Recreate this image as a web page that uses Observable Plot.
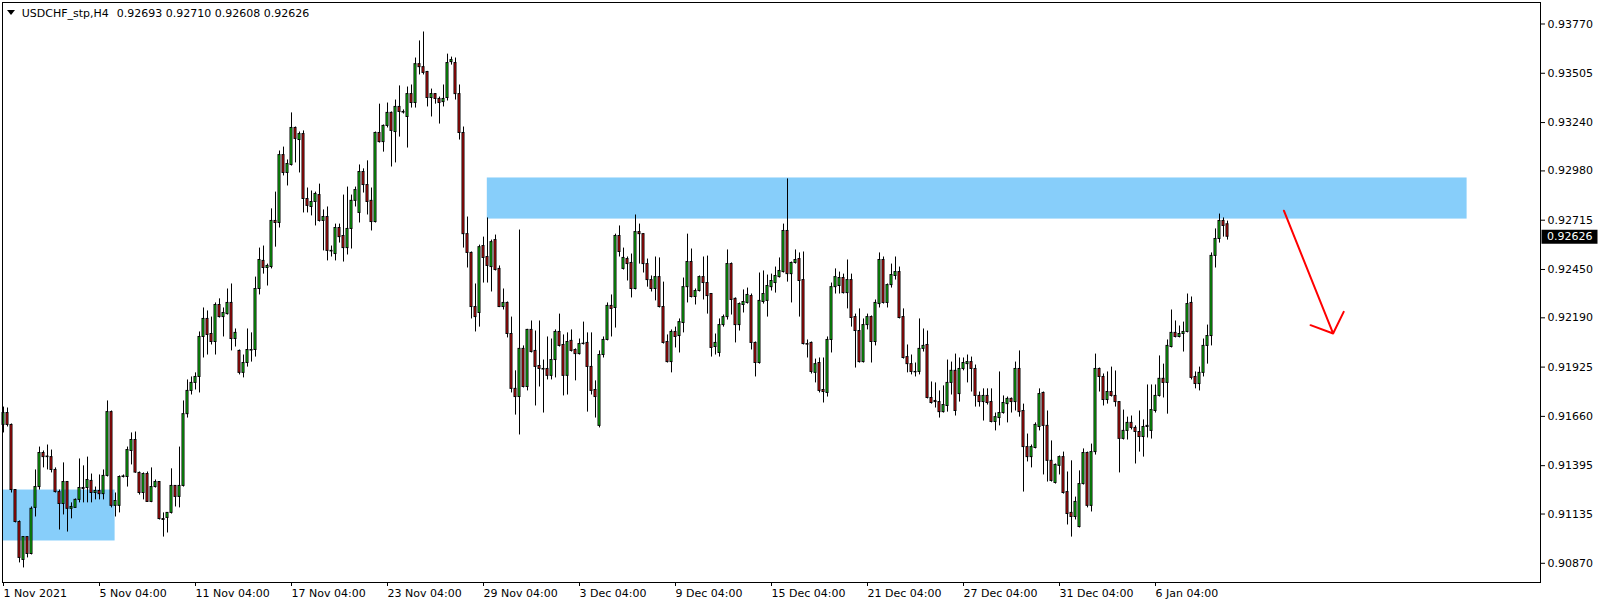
<!DOCTYPE html>
<html>
<head>
<meta charset="utf-8">
<script src="https://cdn.jsdelivr.net/npm/d3@7"></script>
<script src="https://cdn.jsdelivr.net/npm/@observablehq/plot@0.6"></script>
<style>
  html, body { margin: 0; padding: 0; background: #fff; }
</style>
</head>
<body>
<div id="chart"></div>
<script>
// ---- data (USDCHF_stp, H4) ----
const symbolLabel = "USDCHF_stp,H4";

const opens = [
0.91614,0.91678,0.91614,0.91264,0.91092,0.90888,0.91011,0.90920,0.91168,0.91280,
0.91463,0.91441,0.91441,0.91372,0.91253,0.91189,0.91307,0.91163,0.91168,0.91211,
0.91275,0.91275,0.91313,0.91248,0.91259,0.91242,0.91340,0.91683,0.91179,0.91179,
0.91334,0.91334,0.91474,0.91533,0.91356,0.91248,0.91350,0.91200,0.91280,0.91307,
0.91108,0.91114,0.91141,0.91286,0.91227,0.91286,0.91672,0.91797,0.91840,0.91872,
0.92087,0.92184,0.92103,0.92060,0.92259,0.92194,0.92210,0.92270,0.92076,0.92012,
0.91894,0.91947,0.92017,0.92017,0.92345,0.92496,0.92458,0.92463,0.92711,0.92700,
0.93065,0.92969,0.93012,0.93211,0.93146,0.93178,0.92829,0.92786,0.92813,0.92850,
0.92711,0.92732,0.92550,0.92533,0.92673,0.92630,0.92565,0.92668,0.92819,0.92754,
0.92974,0.92904,0.92819,0.92705,0.93184,0.93135,0.93222,0.93292,0.93189,0.93324,
0.93297,0.93270,0.93393,0.93345,0.93554,0.93538,0.93512,0.93372,0.93393,0.93367,
0.93350,0.93372,0.93565,0.93560,0.93393,0.93184,0.92640,0.92539,0.92248,0.92216,
0.92576,0.92517,0.92463,0.92608,0.92453,0.92248,0.92270,0.92103,0.91808,0.91764,
0.92023,0.91818,0.92125,0.92012,0.91931,0.91915,0.91915,0.91878,0.91963,0.92114,
0.92044,0.91878,0.92066,0.92017,0.91995,0.92049,0.92055,0.91926,0.91802,0.91609,
0.91990,0.92071,0.92254,0.92243,0.92630,0.92453,0.92506,0.92485,0.92345,0.92651,
0.92640,0.92479,0.92393,0.92345,0.92409,0.92248,0.92060,0.91952,0.92114,0.92092,
0.92162,0.92355,0.92490,0.92302,0.92334,0.92409,0.92377,0.92318,0.92033,0.92001,
0.92151,0.92194,0.92479,0.92292,0.92151,0.92259,0.92270,0.92307,0.92055,0.91947,
0.92275,0.92281,0.92355,0.92377,0.92409,0.92436,0.92657,0.92425,0.92485,0.92506,
0.92393,0.92049,0.92055,0.91894,0.91947,0.91802,0.91786,0.92071,0.92355,0.92361,
0.92404,0.92323,0.92393,0.92194,0.92119,0.91952,0.92151,0.92194,0.92060,0.92264,
0.92501,0.92270,0.92366,0.92415,0.92436,0.92194,0.91979,0.91941,0.91899,0.91899,
0.92023,0.92044,0.91759,0.91743,0.91737,0.91683,0.91716,0.91840,0.91905,0.91780,
0.91915,0.91941,0.91952,0.91915,0.91770,0.91737,0.91770,0.91737,0.91630,0.91651,
0.91678,0.91726,0.91754,0.91737,0.91915,0.91689,0.91495,0.91441,0.91490,0.91603,
0.91786,0.91609,0.91421,0.91302,0.91394,0.91441,0.91253,0.91141,0.91119,0.91065,
0.91296,0.91463,0.91179,0.91468,0.91915,0.91872,0.91748,0.91791,0.91770,0.91737,
0.91539,0.91582,0.91625,0.91598,0.91576,0.91549,0.91603,0.91582,0.91689,0.91770,
0.91862,0.91840,0.92033,0.92109,0.92087,0.92103,0.92114,0.92270,0.91872,0.91834,
0.91894,0.92039,0.92092,0.92523,0.92614,0.92711,0.92693
];
const highs = [
0.91710,0.91705,0.91619,0.91266,0.91098,0.91011,0.91011,0.91173,0.91372,0.91495,
0.91474,0.91506,0.91479,0.91383,0.91264,0.91410,0.91310,0.91195,0.91216,0.91431,
0.91394,0.91441,0.91350,0.91280,0.91345,0.91372,0.91743,0.91689,0.91248,0.91340,
0.91345,0.91495,0.91571,0.91576,0.91361,0.91356,0.91361,0.91383,0.91318,0.91309,
0.91141,0.91143,0.91378,0.91288,0.91495,0.91743,0.91856,0.91872,0.91894,0.92114,
0.92243,0.92227,0.92194,0.92270,0.92292,0.92243,0.92345,0.92372,0.92130,0.92017,
0.91990,0.92130,0.92109,0.92409,0.92565,0.92576,0.92479,0.92776,0.92866,0.93087,
0.93108,0.93039,0.93292,0.93216,0.93189,0.93195,0.92888,0.92872,0.92866,0.92909,
0.92770,0.92786,0.92576,0.92694,0.92694,0.92850,0.92893,0.92850,0.92893,0.93012,
0.92991,0.93034,0.92888,0.93189,0.93339,0.93227,0.93345,0.93297,0.93361,0.93437,
0.93308,0.93431,0.93442,0.93587,0.93679,0.93727,0.93515,0.93420,0.93396,0.93377,
0.93442,0.93608,0.93592,0.93587,0.93442,0.93216,0.92732,0.92544,0.92372,0.92581,
0.92624,0.92727,0.92608,0.92635,0.92469,0.92345,0.92275,0.92194,0.91905,0.92662,
0.92039,0.92128,0.92173,0.92119,0.92173,0.91963,0.92087,0.92076,0.92125,0.92210,
0.92098,0.92109,0.92125,0.92023,0.92076,0.92167,0.92109,0.92109,0.91851,0.92012,
0.92087,0.92270,0.92313,0.92640,0.92684,0.92565,0.92517,0.92533,0.92743,0.92694,
0.92643,0.92506,0.92415,0.92517,0.92512,0.92382,0.92098,0.92125,0.92140,0.92184,
0.92404,0.92640,0.92560,0.92345,0.92415,0.92517,0.92522,0.92320,0.92103,0.92184,
0.92205,0.92555,0.92485,0.92297,0.92270,0.92340,0.92350,0.92318,0.92060,0.92431,
0.92442,0.92420,0.92425,0.92463,0.92512,0.92694,0.92937,0.92490,0.92555,0.92539,
0.92544,0.92071,0.92060,0.91968,0.91974,0.91974,0.92087,0.92377,0.92453,0.92436,
0.92425,0.92501,0.92425,0.92210,0.92238,0.92184,0.92210,0.92200,0.92286,0.92539,
0.92517,0.92372,0.92479,0.92517,0.92463,0.92238,0.92044,0.91990,0.91947,0.92184,
0.92130,0.92119,0.91845,0.91840,0.91797,0.91824,0.91963,0.91952,0.91995,0.91974,
0.91974,0.91990,0.91979,0.91936,0.91791,0.91808,0.91808,0.91808,0.91678,0.91899,
0.91770,0.91764,0.91759,0.91952,0.92012,0.91726,0.91565,0.91506,0.91625,0.91808,
0.91791,0.91689,0.91528,0.91404,0.91447,0.91468,0.91361,0.91421,0.91226,0.91367,
0.91485,0.91468,0.91511,0.91995,0.91920,0.91888,0.91899,0.91925,0.91904,0.91737,
0.91694,0.91656,0.91662,0.91609,0.91689,0.91641,0.91829,0.91829,0.91829,0.91985,
0.91941,0.92071,0.92232,0.92173,0.92146,0.92167,0.92318,0.92302,0.91899,0.91925,
0.92076,0.92151,0.92539,0.92668,0.92748,0.92727,0.92710
];
const lows = [
0.91571,0.91603,0.91248,0.91087,0.90872,0.90845,0.90899,0.90915,0.91119,0.91264,
0.91383,0.91372,0.91356,0.91248,0.91049,0.91130,0.91038,0.91109,0.91168,0.91195,
0.91195,0.91195,0.91195,0.91211,0.91211,0.91211,0.91334,0.91168,0.91119,0.91141,
0.91329,0.91280,0.91399,0.91354,0.91237,0.91211,0.91198,0.91196,0.91275,0.91103,
0.91011,0.91033,0.91135,0.91173,0.91168,0.91280,0.91651,0.91775,0.91802,0.91786,
0.91974,0.91990,0.92044,0.91990,0.92189,0.92087,0.92205,0.92012,0.92033,0.91883,
0.91867,0.91925,0.91952,0.91979,0.92313,0.92425,0.92361,0.92453,0.92570,0.92673,
0.92953,0.92899,0.93006,0.93023,0.92969,0.92754,0.92754,0.92738,0.92684,0.92705,
0.92550,0.92496,0.92517,0.92496,0.92592,0.92490,0.92528,0.92560,0.92786,0.92700,
0.92861,0.92743,0.92657,0.92700,0.93130,0.93081,0.93211,0.93001,0.93023,0.93162,
0.93286,0.93103,0.93318,0.93318,0.93496,0.93496,0.93324,0.93270,0.93339,0.93232,
0.93324,0.93356,0.93549,0.93361,0.93146,0.92565,0.92458,0.92184,0.92114,0.92140,
0.92377,0.92377,0.92329,0.92442,0.92245,0.92232,0.92082,0.91786,0.91667,0.91560,
0.91813,0.91797,0.92001,0.91716,0.91818,0.91678,0.91856,0.91856,0.91867,0.92033,
0.91770,0.91775,0.92006,0.91851,0.91990,0.92044,0.91683,0.91775,0.91651,0.91598,
0.91974,0.92066,0.92087,0.92135,0.92517,0.92447,0.92388,0.92297,0.92340,0.92479,
0.92431,0.92355,0.92329,0.92281,0.92243,0.92049,0.91947,0.91894,0.92028,0.92001,
0.92109,0.92270,0.92297,0.92259,0.92329,0.92286,0.92210,0.91979,0.91990,0.91979,
0.92140,0.92178,0.92205,0.92055,0.92119,0.92216,0.92264,0.92017,0.91872,0.91941,
0.92264,0.92194,0.92334,0.92323,0.92404,0.92431,0.92382,0.92270,0.92479,0.92194,
0.92044,0.91974,0.91888,0.91840,0.91786,0.91732,0.91764,0.92001,0.92318,0.92318,
0.92318,0.92238,0.92140,0.91920,0.91947,0.91947,0.92125,0.91947,0.92039,0.92243,
0.92264,0.92243,0.92350,0.92393,0.92184,0.91968,0.91894,0.91883,0.91872,0.91883,
0.92006,0.91754,0.91726,0.91705,0.91651,0.91678,0.91683,0.91775,0.91662,0.91737,
0.91905,0.91840,0.91791,0.91710,0.91710,0.91635,0.91721,0.91625,0.91582,0.91609,
0.91672,0.91625,0.91678,0.91689,0.91656,0.91253,0.91415,0.91383,0.91485,0.91582,
0.91345,0.91307,0.91307,0.91296,0.91345,0.91242,0.91076,0.91011,0.91103,0.91060,
0.91291,0.91168,0.91146,0.91452,0.91791,0.91716,0.91726,0.91764,0.91710,0.91356,
0.91533,0.91533,0.91587,0.91404,0.91468,0.91441,0.91544,0.91538,0.91678,0.91764,
0.91759,0.91672,0.92028,0.92082,0.92082,0.92006,0.92109,0.91856,0.91808,0.91797,
0.91872,0.91941,0.92039,0.92458,0.92592,0.92624,0.92608
];
const closes = [
0.91678,0.91614,0.91264,0.91092,0.90899,0.91011,0.90920,0.91163,0.91280,0.91463,
0.91441,0.91444,0.91372,0.91253,0.91189,0.91307,0.91163,0.91173,0.91211,0.91275,
0.91270,0.91318,0.91248,0.91259,0.91242,0.91340,0.91683,0.91179,0.91205,0.91334,
0.91337,0.91479,0.91533,0.91358,0.91248,0.91350,0.91200,0.91280,0.91307,0.91108,
0.91103,0.91141,0.91286,0.91227,0.91286,0.91672,0.91797,0.91840,0.91872,0.92087,
0.92184,0.92098,0.92060,0.92259,0.92194,0.92216,0.92270,0.92076,0.92109,0.91894,
0.91947,0.92017,0.92014,0.92345,0.92501,0.92458,0.92469,0.92711,0.92700,0.93065,
0.92969,0.93017,0.93211,0.93152,0.93178,0.92829,0.92792,0.92813,0.92856,0.92711,
0.92732,0.92550,0.92547,0.92673,0.92624,0.92565,0.92668,0.92819,0.92877,0.92974,
0.92904,0.92813,0.92705,0.93184,0.93135,0.93222,0.93292,0.93195,0.93324,0.93297,
0.93294,0.93393,0.93345,0.93554,0.93538,0.93507,0.93372,0.93393,0.93367,0.93345,
0.93367,0.93560,0.93576,0.93393,0.93184,0.92640,0.92539,0.92248,0.92194,0.92570,
0.92512,0.92469,0.92597,0.92447,0.92248,0.92270,0.92103,0.91808,0.91764,0.92023,
0.91818,0.92125,0.92006,0.91926,0.91915,0.91912,0.91878,0.91963,0.92114,0.92039,
0.91878,0.92060,0.92012,0.91995,0.92049,0.92051,0.91926,0.91797,0.91764,0.91990,
0.92071,0.92254,0.92238,0.92630,0.92544,0.92512,0.92479,0.92345,0.92651,0.92640,
0.92479,0.92393,0.92345,0.92409,0.92248,0.92055,0.91952,0.92114,0.92087,0.92167,
0.92355,0.92490,0.92302,0.92334,0.92409,0.92377,0.92307,0.92028,0.92055,0.92151,
0.92194,0.92479,0.92286,0.92151,0.92264,0.92275,0.92313,0.92055,0.91947,0.92281,
0.92318,0.92361,0.92388,0.92415,0.92442,0.92657,0.92425,0.92485,0.92501,0.92388,
0.92049,0.92046,0.91899,0.91941,0.91797,0.91791,0.92071,0.92355,0.92409,0.92404,
0.92323,0.92393,0.92189,0.92119,0.91952,0.92151,0.92194,0.92060,0.92270,0.92501,
0.92270,0.92366,0.92420,0.92436,0.92189,0.91974,0.91941,0.91899,0.91897,0.92023,
0.92039,0.91759,0.91732,0.91737,0.91683,0.91721,0.91840,0.91905,0.91689,0.91915,
0.91947,0.91952,0.91915,0.91770,0.91737,0.91770,0.91732,0.91630,0.91656,0.91678,
0.91732,0.91754,0.91737,0.91915,0.91683,0.91495,0.91441,0.91495,0.91614,0.91780,
0.91609,0.91421,0.91313,0.91399,0.91441,0.91248,0.91135,0.91119,0.91200,0.91296,
0.91463,0.91179,0.91468,0.91915,0.91872,0.91748,0.91791,0.91770,0.91737,0.91539,
0.91582,0.91625,0.91598,0.91576,0.91549,0.91603,0.91609,0.91694,0.91770,0.91862,
0.91840,0.92039,0.92109,0.92087,0.92103,0.92114,0.92264,0.91867,0.91834,0.91894,
0.92039,0.92092,0.92523,0.92614,0.92711,0.92684,0.92626
];

// x-axis tick labels (every 24 bars)
const xTickBars = [0, 24, 48, 72, 96, 120, 144, 168, 192, 216, 240, 264, 288];
const xTickLabels = ["1 Nov 2021","5 Nov 04:00","11 Nov 04:00","17 Nov 04:00","23 Nov 04:00",
  "29 Nov 04:00","3 Dec 04:00","9 Dec 04:00","15 Dec 04:00","21 Dec 04:00",
  "27 Dec 04:00","31 Dec 04:00","6 Jan 04:00"];
// price axis tick values
const yTickValues = [0.93770,0.93505,0.93240,0.92980,0.92715,0.92450,0.92190,0.91925,0.91660,0.91395,0.91135,0.90870];

// supply / demand zones (bar index range, price range)
const zoneBarStart = [-0.25, 120.95];
const zoneBarEnd   = [27.9, 365.9];
const zoneTop      = [0.91264, 0.92942];
const zoneBottom   = [0.90990, 0.92721];

// red arrow (bar index, price)
const arrowBars   = [320.1, 332.4];
const arrowPrices = [0.92766, 0.92106];

// ---- build ----
const candles = opens.map((o, i) => ({i, o, h: highs[i], l: lows[i], c: closes[i]}));
const bull = candles.filter(d => d.c >= d.o);
const bear = candles.filter(d => d.c < d.o);
const zones = zoneBarStart.map((s, k) => ({x1: s, x2: zoneBarEnd[k], y1: zoneBottom[k], y2: zoneTop[k]}));
const arrows = [{x1: arrowBars[0], y1: arrowPrices[0], x2: arrowBars[1], y2: arrowPrices[1]}];
const xTickMap = new Map(xTickBars.map((b, k) => [b, xTickLabels[k]]));
const last = candles[candles.length - 1];
const fmt = d3.format(".5f");
const titleValues = [last.o, last.h, last.l, last.c].map(fmt).join(" ");

const xDomain = [-0.25, 384.25];
const yDomain = [0.9076676, 0.9388561];
const GREEN = "#12E812", RED = "#EE1111", ZONE = "#87CEFA";

const tri = {draw(ctx) { ctx.moveTo(-4, -2.5); ctx.lineTo(4, -2.5); ctx.lineTo(0, 2.5); ctx.closePath(); }};

const chart = Plot.plot({
  width: 1604,
  height: 606,
  marginLeft: 2,
  marginRight: 64,
  marginTop: 2,
  marginBottom: 24,
  x: {type: "linear", domain: xDomain, label: null},
  y: {type: "linear", domain: yDomain, label: null},
  style: {fontFamily: "DejaVu Sans", fontSize: "11px", color: "black", background: "white", overflow: "visible"},
  marks: [
    Plot.rect(zones, {x1: "x1", x2: "x2", y1: "y1", y2: "y2", fill: ZONE}),
    Plot.ruleX(candles, {x: "i", y1: "l", y2: "h", stroke: "black", strokeWidth: 1}),
    Plot.rect(bull, {x1: d => d.i - 0.25, x2: d => d.i + 0.25, y1: "o", y2: "c", fill: GREEN, stroke: "black", strokeWidth: 1}),
    Plot.rect(bear, {x1: d => d.i - 0.25, x2: d => d.i + 0.25, y1: "o", y2: "c", fill: RED, stroke: "black", strokeWidth: 1}),
    Plot.arrow(arrows, {x1: "x1", y1: "y1", x2: "x2", y2: "y2", stroke: "#FF0000", strokeWidth: 2, headLength: 18, headAngle: 96}),
    Plot.frame({stroke: "black"}),
    Plot.axisY({anchor: "right", ticks: yTickValues, tickFormat: fmt, tickSize: 4, tickPadding: 3, label: null}),
    Plot.axisX({ticks: xTickBars, tickFormat: d => xTickMap.get(d), textAnchor: "start", tickSize: 4, tickPadding: 3, label: null}),
    // current price label
    Plot.ruleY([last], {y: "c", x1: xDomain[1] + 0.375, x2: xDomain[1] + 14.375, stroke: "black", strokeWidth: 14}),
    Plot.text([last], {y: "c", x: xDomain[1], dx: 6.5, text: d => fmt(d.c), fill: "white", textAnchor: "start", fontSize: 11}),
    // title
    Plot.dot([0], {frameAnchor: "top-left", dx: 8.5, dy: 10, symbol: tri, fill: "black", r: 4}),
    Plot.text([symbolLabel], {frameAnchor: "top-left", dx: 19.2, dy: 10.7, text: d => d, textAnchor: "start", lineAnchor: "middle", fill: "black", fontSize: 11}),
    Plot.text([titleValues], {frameAnchor: "top-left", dx: 114.2, dy: 10.7, text: d => d, textAnchor: "start", lineAnchor: "middle", fill: "black", fontSize: 11})
  ]
});
document.getElementById("chart").appendChild(chart);
</script>
</body>
</html>
